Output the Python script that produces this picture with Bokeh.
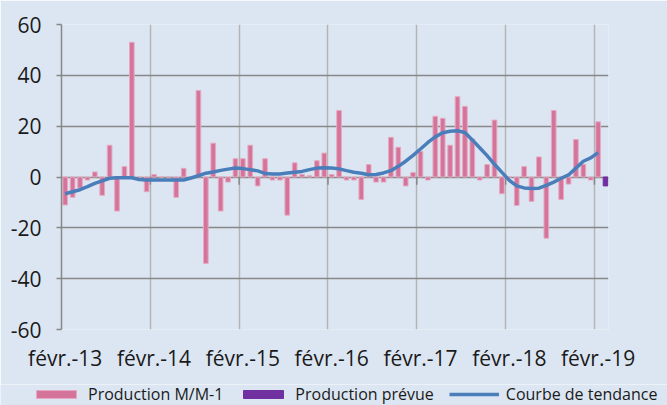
from bokeh.plotting import figure
from bokeh.models import Range1d, FixedTicker, Legend, LegendItem
from bokeh.layouts import column
from bokeh.embed import file_html
from bokeh.resources import INLINE

# ---- data ----
tick_labels = ["févr.-13", "févr.-14", "févr.-15", "févr.-16", "févr.-17", "févr.-18", "févr.-19"]
tick_pos = [0, 12, 24, 36, 48, 60, 72]

production_mm1 = [
    -11.0, -8.0, -4.3, -1.2, 2.0, -7.2, 12.5, -13.4, 4.1, 53.0, 0.0, -5.8,
    1.0, 0.0, 0.0, -8.0, 3.4, 0.0, 34.0, -34.0, 13.3, -13.4, -2.0, 7.2,
    7.2, 12.5, -3.5, 7.2, -1.2, -1.2, -15.0, 5.6, 1.0, 0.5, 6.4, 9.4,
    1.0, 26.2, -1.2, -1.2, -8.9, 4.9, -2.0, -2.0, 15.6, 11.7, -3.5, 1.8,
    10.1, -1.2, 23.9, 23.1, 12.5, 31.6, 27.8, 15.0, -1.2, 4.9, 22.4, -6.6,
    0.0, -11.2, 4.1, -9.6, 7.9, -24.1, 26.2, -8.9, -2.8, 14.8, 5.0, -1.2,
    21.7,
]
months = list(range(len(production_mm1)))

prevue_month = [73]
production_prevue = [-3.5]

tendance = [
    -6.6, -5.8, -5.0, -3.8, -2.5, -1.5, -0.5, -0.3, -0.3, -0.3, -1.0, -1.2,
    -1.2, -1.2, -1.2, -1.2, -1.2, -0.4, 0.5, 1.5, 2.0, 2.6, 3.1, 3.5,
    3.3, 2.9, 2.4, 1.4, 1.2, 1.2, 1.6, 1.9, 2.2, 2.9, 3.5, 3.6,
    3.5, 3.2, 2.5, 1.9, 1.5, 0.9, 1.0, 1.6, 2.5, 4.2, 6.2, 8.5,
    11.0, 13.6, 15.8, 17.4, 18.0, 18.2, 17.5, 14.6, 11.5, 8.4, 5.0, 1.8,
    -1.3, -3.5, -4.3, -4.5, -4.4, -3.3, -2.0, -0.5, 0.8, 3.5, 6.2, 7.5,
    9.6,
]

y_ticks = [-60, -40, -20, 0, 20, 40, 60]
y_labels = ["-60", "-40", "-20", "0", "20", "40", "60"]

series_names = ["Production M/M-1", "Production prévue", "Courbe de tendance"]

# ---- styling ----
BG = "#DCE6F2"
PINK = "#D4749A"
PINK_EDGE = "#E6A9C1"
PURPLE = "#7030A0"
BLUE = "#4A7EBB"
GRID_H = "#888888"
GRID_V = "#B4B4B4"
FONT = "Open Sans"
TXT = "#1A1A1A"

W = 667
p = figure(width=W, height=384, output_backend="svg", toolbar_location=None,
           x_range=Range1d(-0.5, 73.4), y_range=Range1d(-60, 60),
           min_border_left=61, min_border_right=59, min_border_top=24, min_border_bottom=55,
           background_fill_color=BG, border_fill_color=BG, outline_line_color=None)
p.frame_align = False

# grids
p.ygrid.ticker = FixedTicker(ticks=y_ticks)
p.ygrid.grid_line_color = GRID_H
p.ygrid.grid_line_width = 1.5
boundaries = [t - 0.5 for t in tick_pos[1:]]
p.xgrid.ticker = FixedTicker(ticks=boundaries)
p.xgrid.grid_line_color = GRID_V
p.xgrid.grid_line_width = 1.5

# y axis
ya = p.yaxis[0]
ya.ticker = FixedTicker(ticks=y_ticks)
ya.major_label_overrides = {t: l for t, l in zip(y_ticks, y_labels)}
ya.axis_line_color = GRID_H
ya.axis_line_width = 1.5
ya.major_tick_line_color = GRID_H
ya.major_tick_line_width = 1.5
ya.major_tick_out = 5
ya.major_tick_in = 0
ya.minor_tick_line_color = None
ya.major_label_text_font = FONT
ya.major_label_text_font_size = "21px"
ya.major_label_text_color = TXT
ya.major_label_standoff = 15

# x axis
xa = p.xaxis[0]
xa.ticker = FixedTicker(ticks=tick_pos)
xa.major_label_overrides = {t: l for t, l in zip(tick_pos, tick_labels)}
xa.axis_line_color = None
xa.major_tick_line_color = None
xa.minor_tick_line_color = None
xa.major_label_text_font = FONT
xa.major_label_text_font_size = "21px"
xa.major_label_text_color = TXT
xa.major_label_standoff = 8

# small tick marks on the zero line at year boundaries
p.segment(x0=boundaries, y0=[0] * len(boundaries), x1=boundaries, y1=[-3] * len(boundaries),
          line_color=GRID_H, line_width=1.5)

p.vbar(x=months, top=production_mm1, width=0.63, fill_color=PINK,
       line_color=PINK_EDGE, line_width=1)
p.vbar(x=prevue_month, top=production_prevue, width=0.63, fill_color=PURPLE,
       line_color=PURPLE)
p.line(months, tendance, line_color=BLUE, line_width=3.5)

# ---- legend strip (separate figure so it is not clipped) ----
# its ranges lie outside the data, so only the legend is seen
lp = figure(width=W, height=21, output_backend="svg", toolbar_location=None,
            x_range=Range1d(1000, 1001), y_range=Range1d(1000, 1001),
            x_axis_type=None, y_axis_type=None,
            min_border_left=0, min_border_right=0, min_border_top=0, min_border_bottom=0,
            background_fill_color=BG, border_fill_color=BG, outline_line_color=None)
lp.frame_align = False
lp.grid.visible = False
r_bar = lp.vbar(x=months, top=production_mm1, width=0.63, fill_color=PINK,
                line_color=PINK_EDGE, line_width=1)
r_prev = lp.vbar(x=prevue_month, top=production_prevue, width=0.63, fill_color=PURPLE,
                 line_color=PURPLE)
r_line = lp.line(months, tendance, line_color=BLUE, line_width=3.5)

legend = Legend(items=[
    LegendItem(label=series_names[0], renderers=[r_bar]),
    LegendItem(label=series_names[1], renderers=[r_prev]),
    LegendItem(label=series_names[2], renderers=[r_line]),
], orientation="horizontal", location=(31, 0))
legend.label_text_font = FONT
legend.label_text_font_size = "16px"
legend.label_text_color = TXT
legend.glyph_width = 50
legend.glyph_height = 10
legend.label_standoff = 7
legend.spacing = 15
legend.padding = 0
legend.margin = 0
legend.border_line_color = None
legend.background_fill_alpha = 0
lp.add_layout(legend)

layout = column(p, lp, spacing=0)
open("out.html", "w").write(file_html(layout, INLINE))
